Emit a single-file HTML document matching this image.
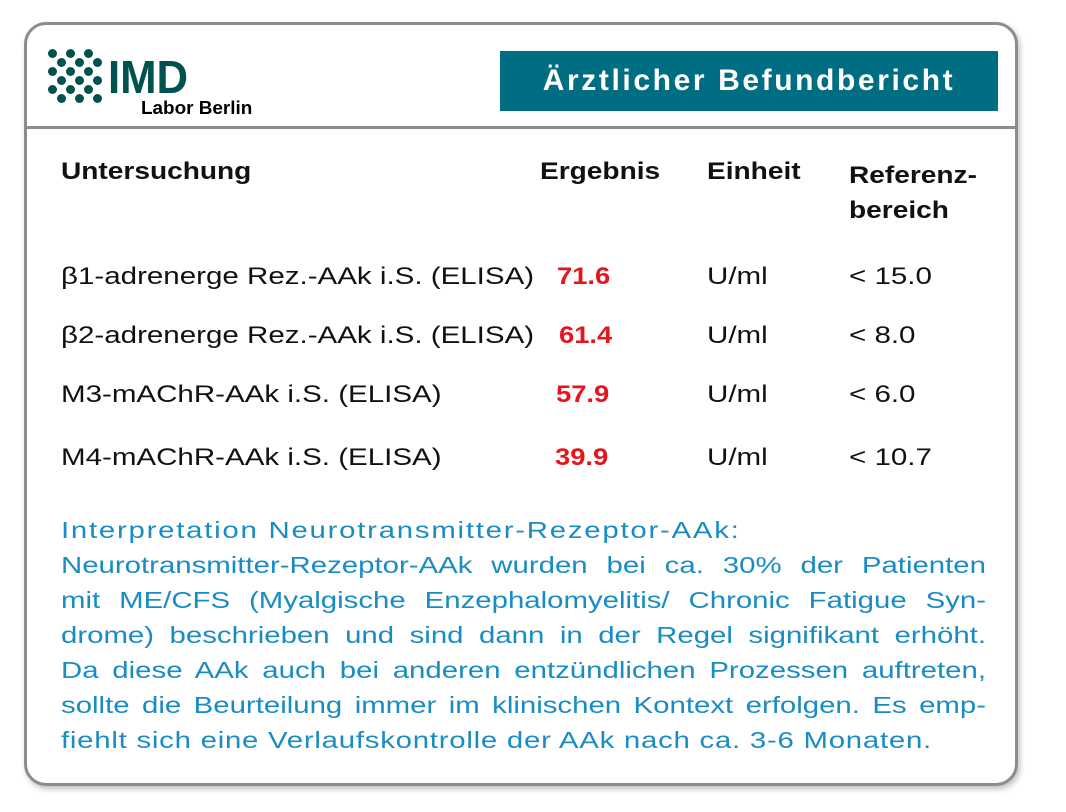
<!DOCTYPE html>
<html><head><meta charset="utf-8"><style>
body{margin:0;width:1066px;height:812px;background:#fff;position:relative;font-family:"Liberation Sans","DejaVu Sans",sans-serif;overflow:hidden}
.card{position:absolute;left:24px;top:22px;width:988px;height:758px;border:3px solid #8c8c8c;border-radius:22px;box-shadow:2px 3px 6px rgba(0,0,0,.25)}
.div{position:absolute;left:24px;top:126px;width:991px;height:3px;background:#8c8c8c}
.banner{position:absolute;left:500px;top:51px;width:498px;height:60px;background:#006e82;color:#fff;font-weight:bold;font-size:30px;line-height:60px;text-align:center;letter-spacing:2.6px}
.t{position:absolute;font-size:24px;color:#111;white-space:nowrap;transform:scaleX(1.23);transform-origin:0 0}
.h{font-weight:bold;transform:scaleX(1.17)}
.r{color:#e8141c;font-weight:bold;transform:scaleX(1.14)}
.para{position:absolute;left:61px;top:513px;width:740px;font-size:23.5px;line-height:35px;color:#1a8cc4;transform:scaleX(1.25);transform-origin:0 0}
.para div{text-align:justify;text-align-last:justify;white-space:nowrap}
.para div.l{text-align-last:left}
.dot{position:absolute;width:9px;height:9px;border-radius:50%;background:#00524f}
</style></head><body>
<div class="card"></div>
<div class="div"></div>
<div>
<div id="dots"></div>
<div class="t" style="left:108px;top:50px;font-size:46px;font-weight:bold;color:#00524f;line-height:54px;transform:scaleX(0.95)">IMD</div>
<div class="t" style="left:141px;top:98px;font-size:18px;font-weight:bold;color:#000;transform:scaleX(1.05)">Labor Berlin</div>
</div>
<div class="banner">Ärztlicher Befundbericht</div>
<div class="t h" style="left:61px;top:158px">Untersuchung</div>
<div class="t h" style="left:540px;top:158px">Ergebnis</div>
<div class="t h" style="left:707px;top:158px">Einheit</div>
<div class="t h" style="left:849px;top:158px;line-height:35px">Referenz-<br>bereich</div>

<div class="t" style="left:61px;top:263px">β1-adrenerge Rez.-AAk i.S. (ELISA)</div>
<div class="t r" style="left:557px;top:263px">71.6</div>
<div class="t" style="left:707px;top:263px">U/ml</div>
<div class="t" style="left:849px;top:263px">&lt; 15.0</div>

<div class="t" style="left:61px;top:322px">β2-adrenerge Rez.-AAk i.S. (ELISA)</div>
<div class="t r" style="left:559px;top:322px">61.4</div>
<div class="t" style="left:707px;top:322px">U/ml</div>
<div class="t" style="left:849px;top:322px">&lt; 8.0</div>

<div class="t" style="left:61px;top:381px">M3-mAChR-AAk i.S. (ELISA)</div>
<div class="t r" style="left:556px;top:381px">57.9</div>
<div class="t" style="left:707px;top:381px">U/ml</div>
<div class="t" style="left:849px;top:381px">&lt; 6.0</div>

<div class="t" style="left:61px;top:444px">M4-mAChR-AAk i.S. (ELISA)</div>
<div class="t r" style="left:555px;top:444px">39.9</div>
<div class="t" style="left:707px;top:444px">U/ml</div>
<div class="t" style="left:849px;top:444px">&lt; 10.7</div>

<div class="para">
<div class="l" style="letter-spacing:1.4px">Interpretation Neurotransmitter-Rezeptor-AAk:</div>
<div>Neurotransmitter-Rezeptor-AAk wurden bei ca. 30% der Patienten</div>
<div>mit ME/CFS (Myalgische Enzephalomyelitis/ Chronic Fatigue Syn-</div>
<div>drome) beschrieben und sind dann in der Regel signifikant erhöht.</div>
<div>Da diese AAk auch bei anderen entzündlichen Prozessen auftreten,</div>
<div>sollte die Beurteilung immer im klinischen Kontext erfolgen. Es emp-</div>
<div class="l" style="letter-spacing:0.6px">fiehlt sich eine Verlaufskontrolle der AAk nach ca. 3-6 Monaten.</div>
</div>
<script>
var rows=[53,62,71,80,89,98];
var c=document.getElementById('dots');
rows.forEach(function(y,i){
  var xs=i%2==0?[52,70,88]:[61,79,97];
  xs.forEach(function(x){
    var d=document.createElement('div');
    d.className='dot';
    d.style.left=(x-4)+'px';d.style.top=(y-4)+'px';
    
    
    c.appendChild(d);
  });
});
</script>
</body></html>
